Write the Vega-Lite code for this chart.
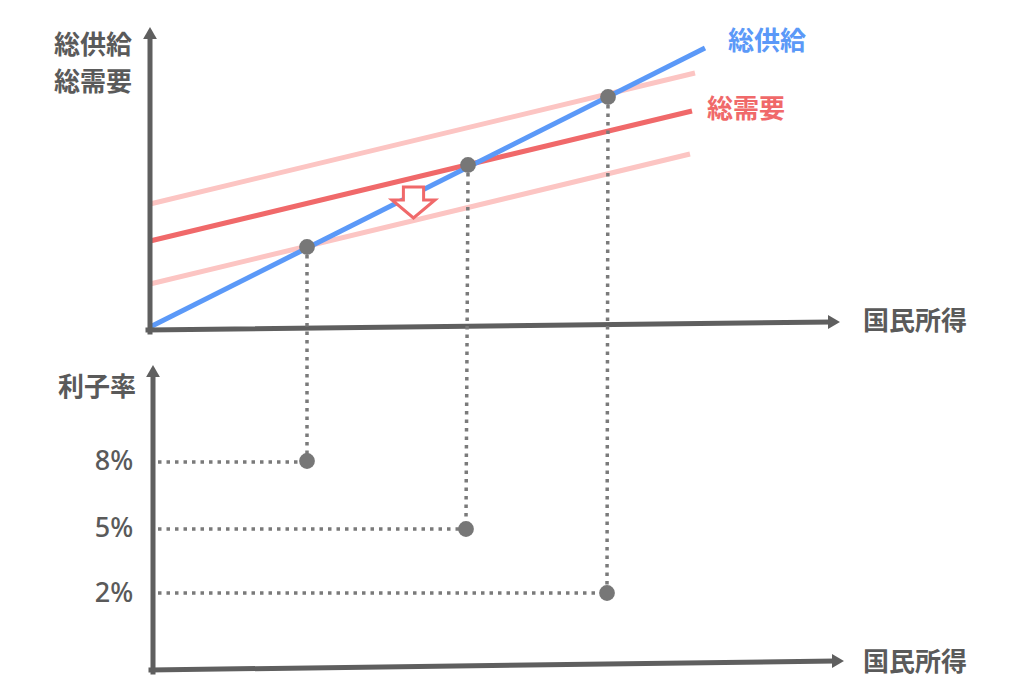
{
  "$schema": "https://vega.github.io/schema/vega-lite/v6.json",
  "width": 1024,
  "height": 698,
  "autosize": {"type": "fit", "contains": "padding"},
  "padding": 0,
  "background": "#ffffff",
  "config": {"view": {"stroke": null}},
  "datasets": {
    "curves": [
      {"role": "pink", "x": 150, "y": 204, "x2": 695, "y2": 73},
      {"role": "pink", "x": 150, "y": 284, "x2": 690, "y2": 154},
      {"role": "red", "x": 150, "y": 241, "x2": 692, "y2": 111},
      {"role": "blue", "x": 150, "y": 327, "x2": 705, "y2": 48}
    ],
    "axes": [
      {"x": 150, "y": 332, "x2": 150, "y2": 38},
      {"x": 148, "y": 330, "x2": 830, "y2": 322},
      {"x": 153, "y": 672, "x2": 153, "y2": 376},
      {"x": 151, "y": 670, "x2": 833, "y2": 661}
    ],
    "heads": [
      {"x": 150, "y": 33, "shape": "triangle-up"},
      {"x": 834, "y": 322, "shape": "triangle-right"},
      {"x": 153, "y": 371, "shape": "triangle-up"},
      {"x": 838, "y": 661, "shape": "triangle-right"}
    ],
    "guides": [
      {"x": 307, "y": 255, "x2": 307, "y2": 455},
      {"x": 468, "y": 173, "x2": 466, "y2": 521},
      {"x": 608, "y": 105, "x2": 607, "y2": 586},
      {"x": 158, "y": 462, "x2": 300, "y2": 462},
      {"x": 158, "y": 529, "x2": 459, "y2": 529},
      {"x": 158, "y": 593, "x2": 600, "y2": 593}
    ],
    "equilibria": [
      {"x": 307, "y": 247},
      {"x": 468, "y": 165},
      {"x": 608, "y": 97},
      {"x": 307, "y": 461},
      {"x": 466, "y": 529},
      {"x": 607, "y": 593}
    ],
    "labels": [
      {"role": "blue", "text": "総供給", "x": 767, "y": 42},
      {"role": "red", "text": "総需要", "x": 746, "y": 110},
      {"role": "gray", "text": "総供給", "x": 93, "y": 46},
      {"role": "gray", "text": "総需要", "x": 93, "y": 83},
      {"role": "gray", "text": "利子率", "x": 97, "y": 388},
      {"role": "gray", "text": "国民所得", "x": 915, "y": 322},
      {"role": "gray", "text": "国民所得", "x": 915, "y": 663}
    ],
    "rates": [
      {"text": "8%", "x": 114, "y": 462},
      {"text": "5%", "x": 114, "y": 529},
      {"text": "2%", "x": 114, "y": 594}
    ],
    "shift": [
      {"x": 413.5, "y": 202.5}
    ]
  },
  "data": {"name": "curves"},
  "encoding": {
    "x": {"field": "x", "type": "quantitative", "scale": {"domain": [0, 1024], "nice": false, "zero": false}, "axis": null},
    "y": {"field": "y", "type": "quantitative", "scale": {"domain": [0, 698], "reverse": true, "nice": false, "zero": false}, "axis": null}
  },
  "layer": [
    {
      "mark": {"type": "rule", "strokeWidth": 5, "strokeCap": "butt"},
      "encoding": {
        "x2": {"field": "x2"},
        "y2": {"field": "y2"},
        "color": {
          "field": "role",
          "type": "nominal",
          "scale": {"domain": ["pink", "red", "blue"], "range": ["#fcc5c3", "#f0696a", "#5b99f8"]},
          "legend": null
        }
      }
    },
    {
      "data": {"name": "axes"},
      "mark": {"type": "rule", "strokeWidth": 5, "strokeCap": "square", "color": "#5f5f5f"},
      "encoding": {
        "x2": {"field": "x2"},
        "y2": {"field": "y2"}
      }
    },
    {
      "data": {"name": "heads"},
      "mark": {"type": "point", "filled": true, "size": 190, "color": "#5f5f5f", "opacity": 1},
      "encoding": {
        "shape": {"field": "shape", "type": "nominal", "scale": null}
      }
    },
    {
      "data": {"name": "guides"},
      "mark": {"type": "rule", "strokeWidth": 3.5, "strokeDash": [3.5, 5], "color": "#7a7a7a"},
      "encoding": {
        "x2": {"field": "x2"},
        "y2": {"field": "y2"}
      }
    },
    {
      "data": {"name": "equilibria"},
      "mark": {"type": "circle", "size": 250, "color": "#777777", "opacity": 1}
    },
    {
      "data": {"name": "shift"},
      "mark": {
        "type": "point",
        "shape": "M-0.47,-0.72 L0.47,-0.72 L0.47,-0.12 L1,-0.12 L0,0.72 L-1,-0.12 L-0.47,-0.12 Z",
        "size": 1849,
        "filled": true,
        "fill": "#ffffff",
        "stroke": "#f0696a",
        "strokeWidth": 3,
        "strokeJoin": "miter",
        "opacity": 1
      }
    },
    {
      "data": {"name": "labels"},
      "mark": {
        "type": "text",
        "font": "Noto Sans CJK JP",
        "fontSize": 26,
        "fontWeight": "bold",
        "align": "center",
        "baseline": "middle"
      },
      "encoding": {
        "text": {"field": "text", "type": "nominal"},
        "color": {
          "field": "role",
          "type": "nominal",
          "scale": {"domain": ["blue", "red", "gray"], "range": ["#5b99f8", "#f0696a", "#5a5a5a"]},
          "legend": null
        }
      }
    },
    {
      "data": {"name": "rates"},
      "mark": {
        "type": "text",
        "font": "Noto Sans",
        "fontSize": 27,
        "fontWeight": 500,
        "color": "#5a5a5a",
        "align": "center",
        "baseline": "middle"
      },
      "encoding": {
        "text": {"field": "text", "type": "nominal"}
      }
    }
  ],
  "resolve": {"scale": {"color": "independent"}}
}
